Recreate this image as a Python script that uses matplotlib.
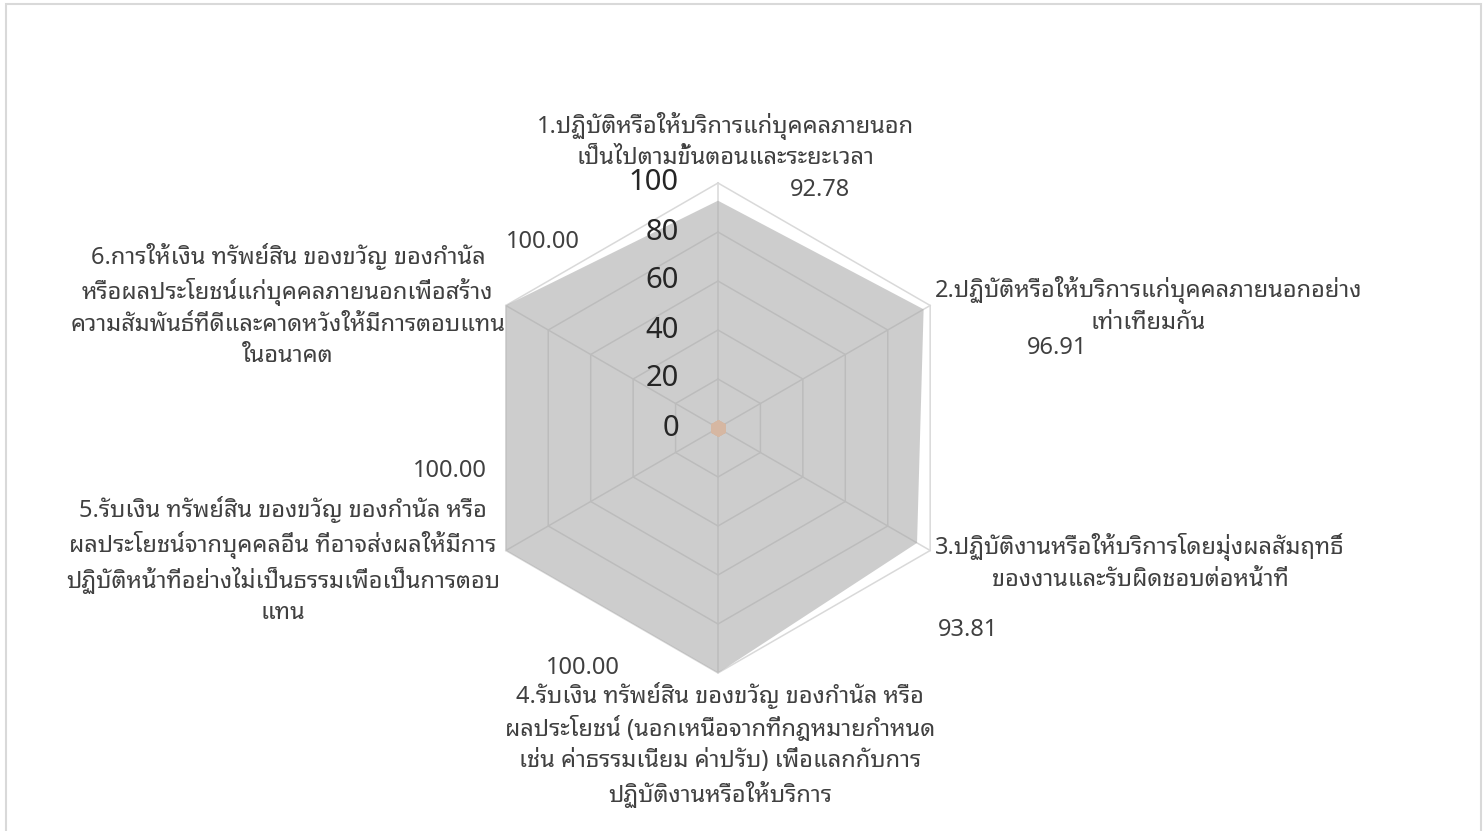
import numpy as np
import matplotlib
matplotlib.use("Agg")
import matplotlib.pyplot as plt
from matplotlib.patches import Rectangle

plt.rcParams['font.family'] = ['Noto Sans Thai Looped', 'DejaVu Sans']

categories = [
    "1.ปฏิบัติหรือให้บริการแก่บุคคลภายนอก\nเป็นไปตามขั้นตอนและระยะเวลา",
    "2.ปฏิบัติหรือให้บริการแก่บุคคลภายนอกอย่าง\nเท่าเทียมกัน",
    "3.ปฏิบัติงานหรือให้บริการโดยมุ่งผลสัมฤทธิ์\nของงานและรับผิดชอบต่อหน้าที่",
    "4.รับเงิน ทรัพย์สิน ของขวัญ ของกำนัล หรือ\nผลประโยชน์ (นอกเหนือจากที่กฎหมายกำหนด\nเช่น ค่าธรรมเนียม ค่าปรับ) เพื่อแลกกับการ\nปฏิบัติงานหรือให้บริการ",
    "5.รับเงิน ทรัพย์สิน ของขวัญ ของกำนัล หรือ\nผลประโยชน์จากบุคคลอื่น ที่อาจส่งผลให้มีการ\nปฏิบัติหน้าที่อย่างไม่เป็นธรรมเพื่อเป็นการตอบ\nแทน",
    "6.การให้เงิน ทรัพย์สิน ของขวัญ ของกำนัล\nหรือผลประโยชน์แก่บุคคลภายนอกเพื่อสร้าง\nความสัมพันธ์ที่ดีและคาดหวังให้มีการตอบแทน\nในอนาคต",
]
scores = [92.78, 96.91, 93.81, 100.00, 100.00, 100.00]
baseline = [0, 0, 0, 0, 0, 0]
ticks = [0, 20, 40, 60, 80, 100]

# label offsets in pixels (x right, y up) from the outer vertex / data vertex
cat_offsets = [(7, 42), (218, 0), (210, -12), (2, -72), (-223, -10), (-218, 0)]
val_offsets = [(102, 11), (133, -39), (51, -87), (-135, 5), (-56, 80), (37, 64)]

W, H = 1483, 831
scale = 2.45          # pixels per unit
cx, cy = 718, 428     # centre in pixels (from top)

fig = plt.figure(figsize=(W / 100, H / 100), dpi=100)
ax = fig.add_axes([0, 0, 1, 1])
ax.set_xlim(-cx / scale, (W - cx) / scale)
ax.set_ylim(-(H - cy) / scale, cy / scale)
ax.axis('off')

n = len(categories)
ang = np.arange(n) * 2 * np.pi / n
sx, sy = np.sin(ang), np.cos(ang)

# grid
for t in ticks[1:]:
    ax.plot(np.append(sx, sx[0]) * t, np.append(sy, sy[0]) * t, color='#d9d9d9', lw=1.1, zorder=1)
for i in range(n):
    ax.plot([0, sx[i] * 100], [0, sy[i] * 100], color='#d9d9d9', lw=1.1, zorder=1)

# data
v = np.array(scores)
ax.fill(sx * v, sy * v, color='#a5a5a5', alpha=0.55, lw=0, zorder=2)
b = np.array(baseline)
ax.plot(sx * b, sy * b, linestyle='none', marker='h', ms=12, color='#d6b7a2', mec='none', zorder=3)

# radial tick labels
for t in ticks:
    ax.text(-16, t, str(t), ha='right', va='center', fontsize=21, color='#262626')

for i in range(n):
    ax.annotate(categories[i], xy=(sx[i] * 100, sy[i] * 100), xytext=cat_offsets[i],
                textcoords='offset pixels', ha='center', va='center',
                multialignment='center', fontsize=17, color='#404040', linespacing=1.38)
    ax.annotate(f"{scores[i]:.2f}", xy=(sx[i] * v[i], sy[i] * v[i]), xytext=val_offsets[i],
                textcoords='offset pixels', ha='center', va='center', fontsize=17, color='#404040')

fig.patches.append(Rectangle((6 / W, -0.01), (W - 8) / W, 1 - 4 / H + 0.01, transform=fig.transFigure,
                             fill=False, ec='#d9d9d9', lw=1.5))

fig.savefig("out.png", dpi=100)
